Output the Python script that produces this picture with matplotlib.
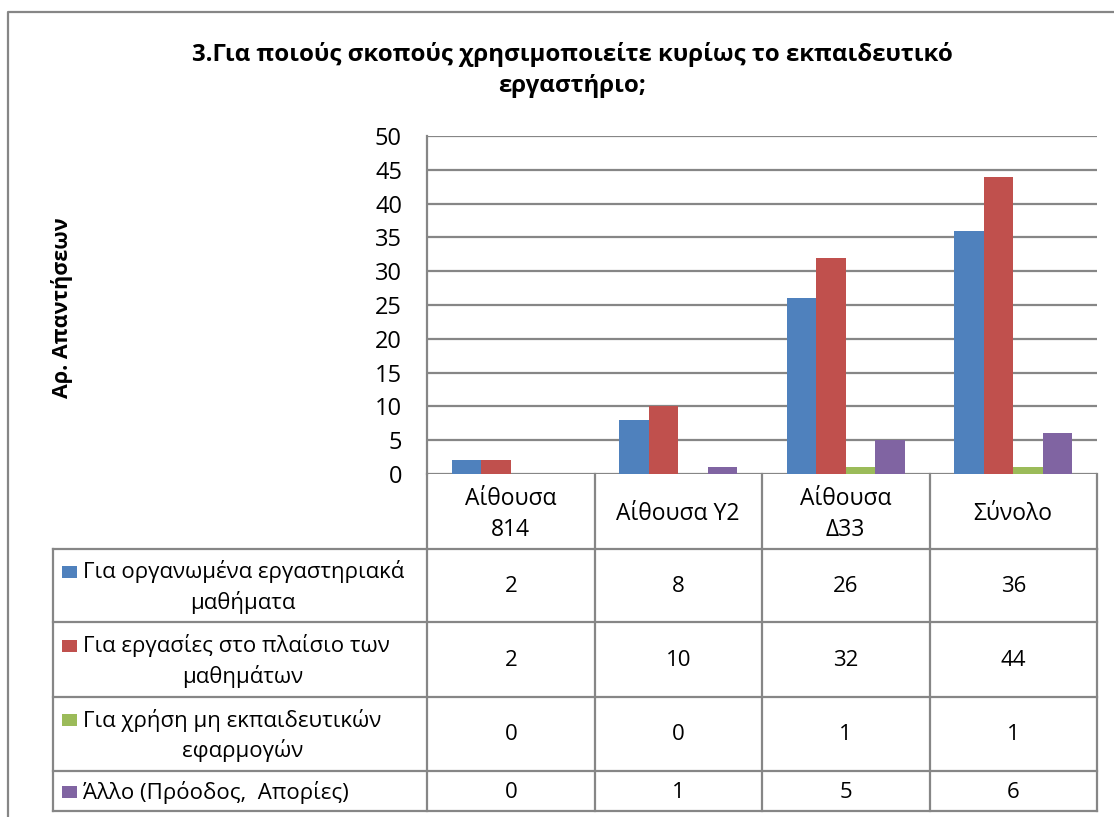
import numpy as np
import matplotlib
matplotlib.use('Agg')
import matplotlib.pyplot as plt
from matplotlib.patches import Rectangle

plt.rcParams['font.family'] = ['Open Sans', 'DejaVu Sans']

title = '3.Για ποιούς σκοπούς χρησιμοποιείτε κυρίως το εκπαιδευτικό\nεργαστήριο;'
ylabel = 'Αρ. Απαντήσεων'
categories = ['Αίθουσα\n814', 'Αίθουσα Υ2', 'Αίθουσα\nΔ33', 'Σύνολο']
series_names = ['Για οργανωμένα εργαστηριακά\nμαθήματα',
                'Για εργασίες στο πλαίσιο των\nμαθημάτων',
                'Για χρήση μη εκπαιδευτικών\nεφαρμογών',
                'Άλλο (Πρόοδος,  Απορίες)']
organised = [2, 8, 26, 36]
projects = [2, 10, 32, 44]
non_edu = [0, 0, 1, 1]
other = [0, 1, 5, 6]
series = [organised, projects, non_edu, other]
colors = ['#4F81BD', '#C0504D', '#9BBB59', '#8064A2']
grid_c = '#868686'

W, H = 1114, 817
fig = plt.figure(figsize=(W / 100, H / 100), dpi=100)

# pixel layout of the excel chart
px_left, px_right = 427, 1097
px_top, px_zero = 136, 474
tab_left = 53
row_lines = [549, 622, 697, 771, 811]

ax = fig.add_axes([px_left / W, 1 - px_zero / H, (px_right - px_left) / W, (px_zero - px_top) / H])
x = np.arange(len(categories))
bw = 0.176
for i, (vals, c) in enumerate(zip(series, colors)):
    ax.bar(x + (i - 1.5) * bw, vals, width=bw, color=c, edgecolor='none', zorder=3)
ax.set_xlim(-0.5, len(categories) - 0.5)
ax.set_ylim(0, 50)
ax.set_yticks(range(0, 51, 5))
ax.yaxis.grid(True, color=grid_c, linewidth=1.6)
ax.set_axisbelow(True)
for s in ['top', 'right', 'bottom']:
    ax.spines[s].set_visible(False)
ax.spines['left'].set_color(grid_c)
ax.spines['left'].set_linewidth(1.6)
ax.tick_params(axis='y', length=0, pad=18, labelsize=17)
ax.tick_params(axis='x', length=0, labelbottom=False)

# overlay in pixel coordinates for the title, label and data table
ov = fig.add_axes([0, 0, 1, 1])
ov.set_xlim(0, W)
ov.set_ylim(H, 0)
ov.axis('off')
ov.patch.set_alpha(0)

# chart border
ov.plot([8, 8, W], [H, 12, 12], color=grid_c, linewidth=1.6)

ov.text(572, 70, title, ha='center', va='center', fontsize=17.3, fontweight='bold',
        linespacing=1.42)
ov.text(62, 308, ylabel, ha='center', va='center', rotation=90, fontsize=15.5,
        fontweight='bold')

col_edges = np.linspace(px_left, px_right, len(categories) + 1)
col_mid = (col_edges[:-1] + col_edges[1:]) / 2
lk = dict(color=grid_c, linewidth=1.6, solid_capstyle='projecting')
fs = 16

# header row
for xe in col_edges:
    ov.plot([xe, xe], [px_zero, row_lines[0]], **lk)
for cx, cat in zip(col_mid, categories):
    ov.text(cx, (px_zero + row_lines[0]) / 2 + 3, cat, ha='center', va='center',
            fontsize=16.5, linespacing=1.38)

# body rows
for yl in row_lines:
    ov.plot([tab_left, px_right], [yl, yl], **lk)
for xe in [tab_left] + list(col_edges):
    ov.plot([xe, xe], [row_lines[0], row_lines[-1]], **lk)

for r, (name, vals, c) in enumerate(zip(series_names, series, colors)):
    y0, y1 = row_lines[r], row_lines[r + 1]
    ym = (y0 + y1) / 2
    lines = name.split('\n')
    if len(lines) == 2:
        yl1, yl2 = ym - 14, ym + 17
    else:
        yl1 = ym + 1
    ov.add_patch(Rectangle((62, yl1 - 6), 15, 12, color=c, lw=0))
    ov.text(83, yl1, lines[0], ha='left', va='center', fontsize=fs)
    if len(lines) == 2:
        ov.text(243, yl2, lines[1], ha='center', va='center', fontsize=fs)
    for cx, v in zip(col_mid, vals):
        ov.text(cx, ym + 1, str(v), ha='center', va='center', fontsize=fs)

fig.savefig('out.png', dpi=100)
